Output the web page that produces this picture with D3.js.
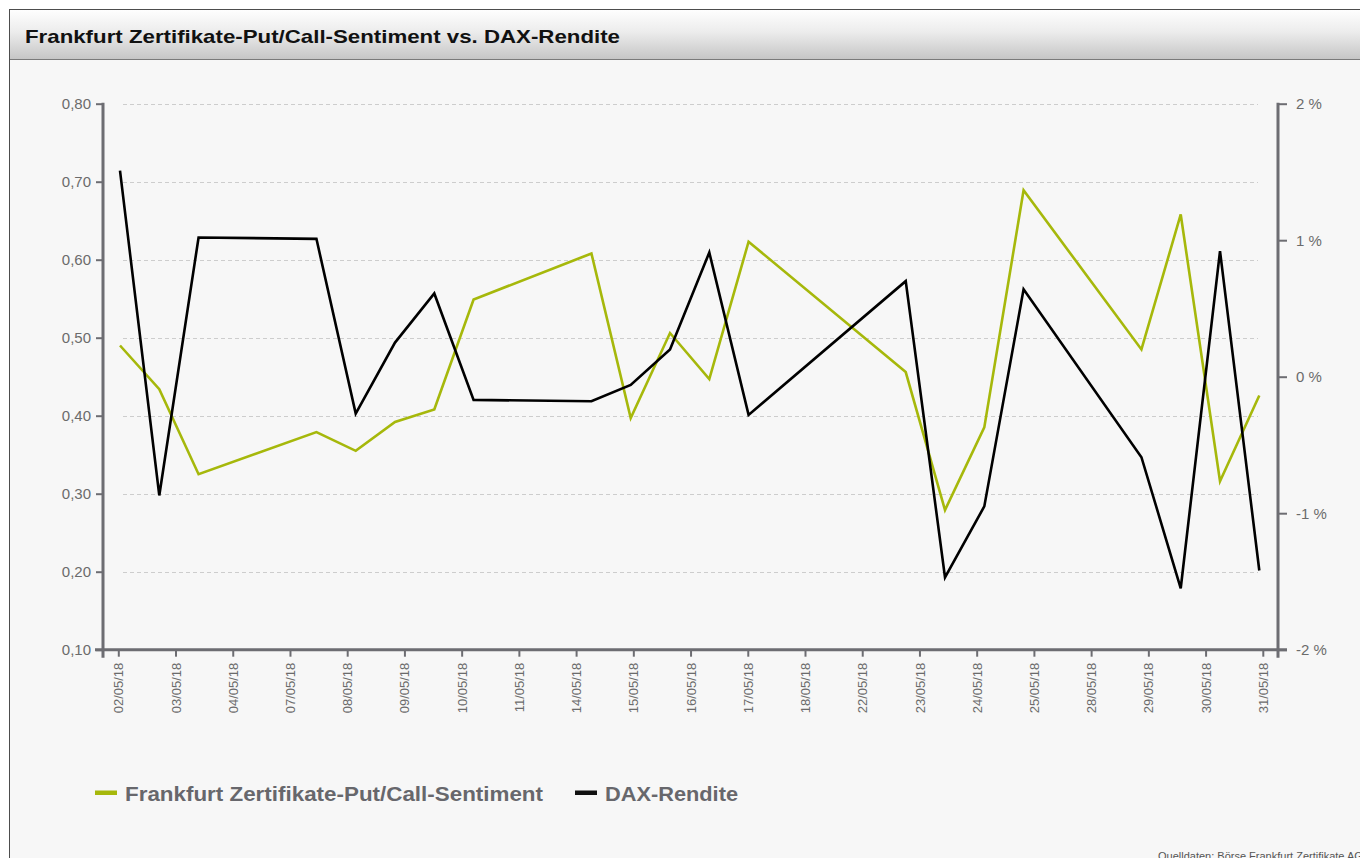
<!DOCTYPE html>
<html><head><meta charset="utf-8">
<script src="https://cdn.jsdelivr.net/npm/d3@7"></script>
<style>
html,body{margin:0;padding:0;background:#fff;overflow:hidden;}
svg{display:block;font-family:"Liberation Sans",Arial,Helvetica,sans-serif;}
</style></head>
<body>
<svg id="c" width="1360" height="858"></svg>
<script>
// ---- data ----
const dates = ["2018-05-02","2018-05-03","2018-05-04","2018-05-07","2018-05-08","2018-05-09","2018-05-10","2018-05-11","2018-05-14","2018-05-15","2018-05-16","2018-05-17","2018-05-18","2018-05-22","2018-05-23","2018-05-24","2018-05-25","2018-05-28","2018-05-29","2018-05-30","2018-05-31"];
const tickLabels = ["02/05/18","03/05/18","04/05/18","07/05/18","08/05/18","09/05/18","10/05/18","11/05/18","14/05/18","15/05/18","16/05/18","17/05/18","18/05/18","22/05/18","23/05/18","24/05/18","25/05/18","28/05/18","29/05/18","30/05/18","31/05/18"];
const sentiment = [0.490,0.434,0.325,0.379,0.355,0.392,0.408,0.549,0.608,0.397,0.506,0.447,0.623,0.456,0.279,0.385,0.689,0.485,0.658,0.316,0.426];
const daxReturn = [1.51,-0.87,1.02,1.01,-0.27,0.25,0.61,-0.17,-0.18,-0.06,0.20,0.91,-0.28,0.70,-1.47,-0.95,0.64,-0.59,-1.55,0.92,-1.42];
const leftTicks = [0.1,0.2,0.3,0.4,0.5,0.6,0.7,0.8];
const rightTicks = [-2,-1,0,1,2];
const title = "Frankfurt Zertifikate-Put/Call-Sentiment vs. DAX-Rendite";
const seriesNames = ["Frankfurt Zertifikate-Put/Call-Sentiment","DAX-Rendite"];
const source = "Quelldaten: Börse Frankfurt Zertifikate AG";

// ---- layout ----
const svg = d3.select("#c");
const greenC = "#a6b80b", blackC = "#000", axisC = "#6d6d72", textC = "#6b6b6b";
const parse = d3.utcParse("%Y-%m-%d");
const dts = dates.map(parse);

const defs = svg.append("defs");
const g1 = defs.append("linearGradient").attr("id","hdr").attr("x1",0).attr("y1",0).attr("x2",0).attr("y2",1);
g1.append("stop").attr("offset","0%").attr("stop-color","#fefefe");
g1.append("stop").attr("offset","45%").attr("stop-color","#ececec");
g1.append("stop").attr("offset","100%").attr("stop-color","#c6c6c6");

// frame
svg.append("rect").attr("x",9.5).attr("y",9.5).attr("width",1400).attr("height",900)
  .attr("fill","#f7f7f7").attr("stroke","#4d4d4d").attr("stroke-width",1);
svg.append("rect").attr("x",10).attr("y",10).attr("width",1400).attr("height",49).attr("fill","url(#hdr)");
svg.append("line").attr("x1",10).attr("x2",1360).attr("y1",59.5).attr("y2",59.5).attr("stroke","#7a7a7a");
svg.append("text").attr("x",25).attr("y",42.5).text(title)
  .attr("font-size",19).attr("font-weight","bold").attr("fill","#111")
  .attr("textLength",595).attr("lengthAdjust","spacingAndGlyphs");

// scales
const yTop = 103.7, yBot = 649.7;
const xT = d3.scaleUtc().domain([dts[0], dts[dts.length-1]]).range([120, 1259.3]);
const xP = d3.scalePoint().domain(tickLabels).range([118.3, 1262.8]);
const yL = d3.scaleLinear().domain([0.1,0.8]).range([yBot,yTop]);
const yR = d3.scaleLinear().domain([-2,2]).range([yBot,yTop]);

// grid
svg.append("g").selectAll("line").data(leftTicks.filter(d=>d>0.1)).join("line")
  .attr("x1",123).attr("x2",1258).attr("y1",d=>Math.round(yL(d))+0.5).attr("y2",d=>Math.round(yL(d))+0.5)
  .attr("stroke","#cdcdcd").attr("stroke-width",1).attr("stroke-dasharray","4,3");

// lines
const lineL = d3.line().x((d,i)=>xT(dts[i])).y(d=>yL(d));
const lineR = d3.line().x((d,i)=>xT(dts[i])).y(d=>yR(d));
svg.append("path").datum(sentiment).attr("d",lineL).attr("fill","none")
  .attr("stroke",greenC).attr("stroke-width",2.6).attr("stroke-linejoin","miter");
svg.append("path").datum(daxReturn).attr("d",lineR).attr("fill","none")
  .attr("stroke",blackC).attr("stroke-width",2.6).attr("stroke-linejoin","miter");

// axes
const fmtL = d => d3.format(".2f")(d).replace(".",",");
const axL = svg.append("g").attr("transform","translate(103,0)")
  .call(d3.axisLeft(yL).tickValues(leftTicks).tickFormat(fmtL).tickSize(7).tickPadding(5));
const axR = svg.append("g").attr("transform","translate(1278,0)")
  .call(d3.axisRight(yR).tickValues(rightTicks).tickFormat(d=>d+" %").tickSize(9).tickPadding(9));
const axB = svg.append("g").attr("transform",`translate(0,${yBot})`)
  .call(d3.axisBottom(xP).tickSize(7).tickPadding(0));
[axL,axR,axB].forEach(a=>{
  a.select(".domain").remove();
  a.selectAll(".tick line").attr("stroke",axisC).attr("stroke-width",2);
  a.selectAll(".tick text").attr("fill",textC).attr("font-family",'"Liberation Sans",Arial,sans-serif');
});
axL.selectAll(".tick text").attr("font-size",15);
axR.selectAll(".tick text").attr("font-size",15);
axB.selectAll(".tick text").attr("font-size",13)
  .attr("transform","rotate(-90)").attr("x",-13).attr("y",0).attr("dy","0.35em").style("text-anchor","end");
// axis lines
svg.append("line").attr("x1",103).attr("x2",103).attr("y1",yTop-1).attr("y2",yBot+8).attr("stroke",axisC).attr("stroke-width",3);
svg.append("line").attr("x1",1278).attr("x2",1278).attr("y1",yTop-1).attr("y2",yBot+8).attr("stroke",axisC).attr("stroke-width",3);
svg.append("line").attr("x1",95).attr("x2",1287).attr("y1",yBot).attr("y2",yBot).attr("stroke",axisC).attr("stroke-width",3);

// legend
const leg = svg.append("g");
const legItems = [
  {name:seriesNames[0], color:greenC, x:95, w:418},
  {name:seriesNames[1], color:"#111", x:575, w:133}
];
legItems.forEach(it=>{
  leg.append("rect").attr("x",it.x).attr("y",790.5).attr("width",22).attr("height",4.5).attr("fill",it.color);
  leg.append("text").attr("x",it.x+30).attr("y",801).text(it.name)
    .attr("font-size",20).attr("font-weight","bold").attr("fill","#67676c")
    .attr("textLength",it.w).attr("lengthAdjust","spacingAndGlyphs");
});

// source
svg.append("text").attr("x",1158).attr("y",860).text(source).attr("font-size",11).attr("fill","#555");
</script>
</body></html>
